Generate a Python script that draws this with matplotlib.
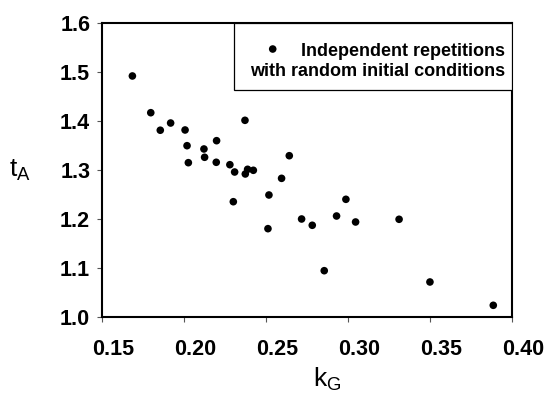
import matplotlib
matplotlib.use("Agg")
import matplotlib.pyplot as plt
import matplotlib.transforms as mtransforms
from matplotlib.patches import Rectangle

# ─── Data ────────────────────────────────────────────
k_G = [0.1685, 0.1797, 0.1855, 0.1918, 0.2006, 0.2018, 0.2121, 0.2026,
       0.2125, 0.2198, 0.2371, 0.2196, 0.2279, 0.2308, 0.2373, 0.2387,
       0.2422, 0.2641, 0.2594, 0.2300, 0.2517, 0.2511, 0.2716, 0.2781,
       0.2854, 0.2929, 0.2986, 0.3045, 0.3310, 0.3498, 0.3884]
t_A = [1.4915, 1.4167, 1.3810, 1.3957, 1.3815, 1.3495, 1.3428, 1.3149,
       1.3259, 1.3597, 1.4012, 1.3157, 1.3108, 1.2959, 1.2919, 1.3014,
       1.2994, 1.3291, 1.2830, 1.2354, 1.2491, 1.1805, 1.2002, 1.1874,
       1.0949, 1.2063, 1.2403, 1.1941, 1.1996, 1.0719, 1.0244]

x_ticks = [0.15, 0.20, 0.25, 0.30, 0.35, 0.40]
y_ticks = [1.0, 1.1, 1.2, 1.3, 1.4, 1.5, 1.6]
legend_lines = ["Independent repetitions", "with random initial conditions"]

plt.rcParams["font.family"] = ["Liberation Sans", "DejaVu Sans"]
plt.rcParams["mathtext.default"] = "regular"

fig = plt.figure(figsize=(5.5, 3.97), dpi=100)
ax = fig.add_axes([0.1855, 0.2008, 0.7460, 0.7420])

ax.scatter(k_G, t_A, s=30, color="black", edgecolors="none", zorder=3)

ax.set_xlim(0.15, 0.40)
ax.set_ylim(1.0, 1.6)
ax.set_xticks(x_ticks)
ax.set_yticks(y_ticks)
ax.set_xticklabels([f"{v:.2f}" for v in x_ticks], fontsize=15.5, fontweight="bold")
ax.set_yticklabels([f"{v:.1f}" for v in y_ticks], fontsize=15.5, fontweight="bold")
ax.tick_params(direction="out", length=3.5, width=0.8, color="#555555", pad=5)
ax.tick_params(axis="x", pad=12)

# the x tick labels in the reference sit a little right of their ticks
shift = mtransforms.ScaledTranslation(11 / 100, 0, fig.dpi_scale_trans)
for lbl in ax.get_xticklabels():
    lbl.set_transform(lbl.get_transform() + shift)

for side in ["left", "bottom", "top", "right"]:
    ax.spines[side].set_linewidth(1.5)
    ax.spines[side].set_color("black")

ax.set_xlabel(r"k$_{G}$", fontsize=19)
ax.xaxis.set_label_coords(0.548, -0.165)
ax.set_ylabel(r"t$_{A}$", fontsize=19, rotation=0, va="center", ha="center")
ax.yaxis.set_label_coords(-0.2, 0.5)

# ─── Legend box, drawn by hand so the marker sits on the first line ──
ax.add_patch(Rectangle((0.3217, 0.7716), 1 - 0.3217, 1 - 0.7716,
                       transform=ax.transAxes, facecolor="white",
                       edgecolor="black", linewidth=0.9, zorder=4))
ax.scatter([0.416], [0.9107], s=30, color="black", edgecolors="none",
           transform=ax.transAxes, zorder=5, clip_on=False)
for line, y in zip(legend_lines, [0.9016, 0.8337]):
    ax.text(0.982, y, line, transform=ax.transAxes, ha="right", va="center",
            fontsize=13, fontweight="bold", zorder=5)

fig.savefig("out.png", dpi=100)
